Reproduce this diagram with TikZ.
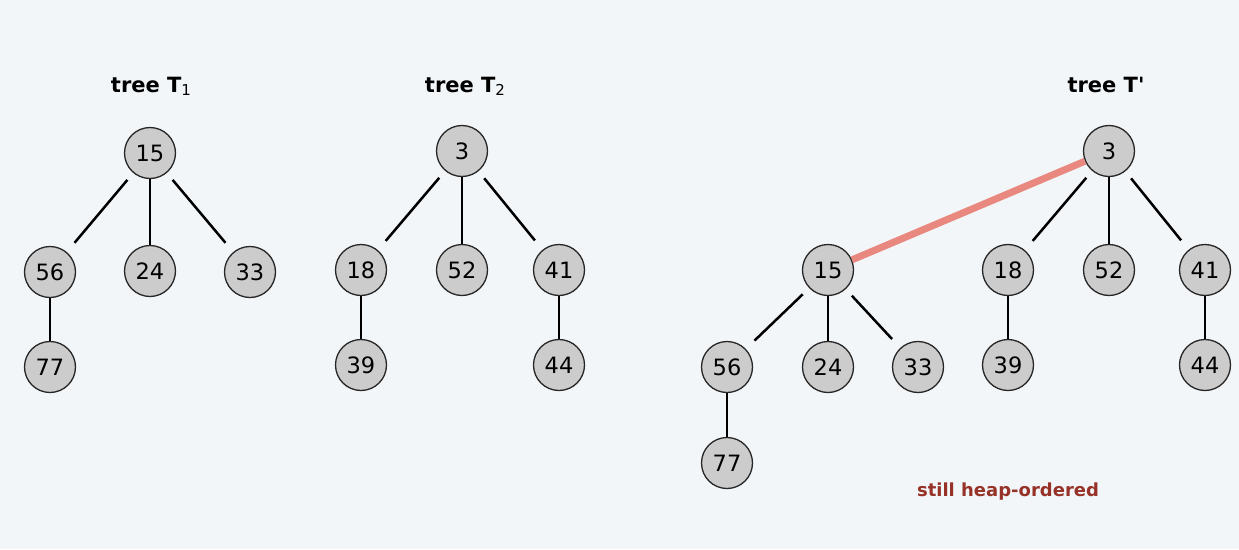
\documentclass[tikz,border=0pt]{standalone}
\usepackage{fontspec}
\setmainfont{DejaVu Sans}
\definecolor{bg}{RGB}{243,246,249}
\definecolor{keyfill}{RGB}{204,204,204}
\definecolor{linkred}{RGB}{232,136,126}
\definecolor{notered}{RGB}{150,50,40}
\newcommand{\treesub}[1]{\raisebox{-0.3ex}{\mdseries\fontsize{15}{18}\selectfont #1}}
\begin{document}
\begin{tikzpicture}[x=1pt,y=-1pt,
  key/.style={circle,draw=black!85,line width=1.3pt,fill=keyfill,minimum size=51pt,inner sep=0pt,
    font=\fontsize{22.5}{26}\selectfont},
  title/.style={anchor=base,font=\bfseries\fontsize{21}{25}\selectfont},
  edge/.style={line width=2.5pt},
  diag/.style={edge,shorten <=9pt,shorten >=12pt},
  link/.style={line width=7pt,linkred}]
\fill[bg] (0,0) rectangle (1239,549);
\useasboundingbox (0,0) rectangle (1239,549);

% tree T1
\node[title] (t1) at (151,92) {tree T\treesub{1}};
\node[key] (a15) at (150,153) {15};
\node[key] (a56) at (50,272) {56};
\node[key] (a24) at (150,271) {24};
\node[key] (a33) at (250,272) {33};
\node[key] (a77) at (50,367) {77};
\draw[diag] (a15) -- (a56);
\draw[edge] (a15) -- (a24);
\draw[diag] (a15) -- (a33);
\draw[edge] (a56) -- (a77);

% tree T2
\node[title] (t2) at (465,92) {tree T\treesub{2}};
\node[key] (b3) at (462,151) {3};
\node[key] (b18) at (361,270) {18};
\node[key] (b52) at (462,270) {52};
\node[key] (b41) at (559,270) {41};
\node[key] (b39) at (361,365) {39};
\node[key] (b44) at (559,365) {44};
\draw[diag] (b3) -- (b18);
\draw[edge] (b3) -- (b52);
\draw[diag] (b3) -- (b41);
\draw[edge] (b18) -- (b39);
\draw[edge] (b41) -- (b44);

% linked tree T'
\node[title] (t3) at (1106,92) {tree T\textquotesingle};
\node[key] (c3) at (1109,151) {3};
\node[key] (c15) at (828,270) {15};
\node[key] (c18) at (1008,270) {18};
\node[key] (c52) at (1109,270) {52};
\node[key] (c41) at (1205,270) {41};
\node[key] (c39) at (1008,365) {39};
\node[key] (c44) at (1205,365) {44};
\node[key] (c56) at (727,367) {56};
\node[key] (c24) at (828,367) {24};
\node[key] (c33) at (918,367) {33};
\node[key] (c77) at (727,463) {77};
\draw[link] (c3) -- (c15);
\draw[diag] (c3) -- (c18);
\draw[edge] (c3) -- (c52);
\draw[diag] (c3) -- (c41);
\draw[edge] (c18) -- (c39);
\draw[edge] (c41) -- (c44);
\draw[diag] (c15) -- (c56);
\draw[edge] (c15) -- (c24);
\draw[diag] (c15) -- (c33);
\draw[edge] (c56) -- (c77);

\node[font=\bfseries\fontsize{18}{21}\selectfont,text=notered] (note) at (1008,492) {still heap-ordered};
\end{tikzpicture}
\end{document}
